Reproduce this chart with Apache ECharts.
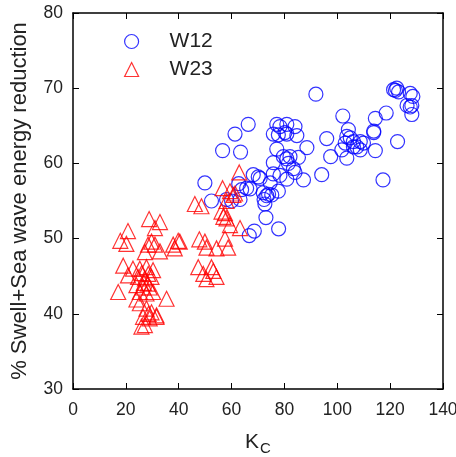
<!DOCTYPE html>
<html>
<head>
<meta charset="utf-8">
<script src="https://cdn.jsdelivr.net/npm/echarts@6/dist/echarts.min.js"></script>
<style>
  html, body { margin: 0; padding: 0; background: #fff; }
  #main { width: 456px; height: 457px; }
</style>
</head>
<body>
<div id="main"></div>
<script>
// W12 points [Kc, % reduction]
const w12 = [
  [91.9, 69.2], [122.5, 70.0], [121.3, 69.8], [123.2, 69.5], [122, 69.7],
  [127.6, 69.3], [128.6, 68.9], [126.4, 67.7], [127.6, 67.5], [128.2, 67.7], [128.2, 66.5],
  [118.5, 66.7], [102.1, 66.3], [114.4, 66.0], [113.8, 64.3], [113.8, 64.1],
  [122.8, 62.9], [117.3, 57.8], [114.4, 61.7], [96, 63.3], [97.5, 60.9], [94.1, 58.5], [88.5, 62.1],
  [104.2, 64.5], [103.6, 63.6], [104.9, 63.4], [103, 62.7], [106.1, 62.9], [108.7, 62.9],
  [109.9, 62.7], [107.4, 62.2], [108.7, 61.8], [101.7, 61.8], [103.6, 60.7], [106.1, 62.2],
  [66.3, 65.2], [61.3, 63.9], [56.6, 61.7], [63.4, 61.5], [49.9, 57.4], [52.4, 55.0],
  [77.1, 65.2], [78.3, 64.9], [80.9, 65.2], [84, 64.9], [75.8, 63.9], [77.7, 63.8],
  [80.9, 63.9], [84.7, 63.7], [80.2, 64.1], [77.1, 61.9],
  [79.6, 60.9], [80.9, 60.6], [82.1, 60.9], [85.3, 60.8], [81.5, 60], [75.8, 60.1],
  [83.4, 59.3], [84.0, 58.8], [87.2, 57.8], [80.9, 57.9], [78.3, 58.4], [75.8, 58.6],
  [68.2, 58.5], [70.1, 58.2], [70.8, 58.0], [74.6, 57.4],
  [65.7, 56.7], [67, 56.6], [63.8, 56.5], [72, 56.1], [74, 55.9], [73.3, 55.7], [75.2, 55.8], [77.7, 56.3],
  [72.3, 55.2], [72.6, 54.6], [58.1, 55.2], [60, 55.0], [63.2, 55.2],
  [73.0, 52.8], [77.8, 51.3], [66.7, 50.4], [68.6, 51.0], [62.7, 57.3]
];

// W23 points [Kc, % reduction]
const w23 = [
  [62.9, 58.8], [56.6, 56.7], [59.4, 56.3], [61.3, 56.0], [60.7, 55.8], [58.1, 55.0],
  [46.1, 54.6], [48.6, 54.3], [56.2, 53.6], [57.5, 53.4], [56.9, 52.9], [58.1, 52.7],
  [59.4, 51.8], [63.2, 51.4], [28.8, 52.6], [32.9, 52.2], [31, 51.4],
  [20.8, 51.0], [17.9, 49.7], [20.2, 49.3], [29.7, 49.6], [31, 49.2], [28.4, 49.2],
  [27.2, 48.2], [32.9, 48.3], [37.9, 49.2], [39.8, 49.7], [40.4, 49.6], [38.5, 48.7],
  [47.8, 49.9], [49.9, 49.6], [50.5, 48.8], [54.3, 48.7], [58.7, 48.8], [57.5, 50],
  [19, 46.4], [22.7, 46.0], [25.3, 46.0], [27.8, 46.2], [30.3, 45.8], [17.1, 42.9],
  [20.8, 45.1], [24.6, 44.9], [27.2, 44.7], [29.7, 44.9], [26, 45.4], [28.5, 45.3],
  [24, 43.8], [26.5, 43.5], [29, 43.5], [25.3, 42.9], [27.8, 42.7], [30.3, 42.9],
  [26.8, 44.1], [28.3, 44.0], [35.4, 42.0], [24, 41.9], [25.3, 41.4],
  [27.8, 40.7], [29.7, 40.2], [31.6, 39.8], [26.5, 39.6], [29, 39.4], [31.6, 39.6],
  [27.2, 38.5], [25.9, 38.3], [28.6, 40.0],
  [47.4, 46.2], [52.4, 46.2], [53.1, 45.7], [49.3, 45.3], [50.5, 44.6], [54.3, 44.9]
];

const xTicks = [0, 20, 40, 60, 80, 100, 120, 140];
const yTicks = [30, 40, 50, 60, 70, 80];

const font = 'Liberation Sans, Arial, sans-serif';
const tickColor = '#222';

const chart = echarts.init(document.getElementById('main'));

const baseAxis = {
  axisLine: { show: true, onZero: false, lineStyle: { color: '#000', width: 1.5 } },
  axisTick: { show: true, inside: true, length: 6, lineStyle: { color: '#000' } },
  splitLine: { show: false }
};

chart.setOption({
  animation: false,
  backgroundColor: '#fff',
  grid: { left: 73, right: 13, top: 13, bottom: 68, outerBoundsMode: 'none', containLabel: false },
  legend: {
    orient: 'vertical',
    left: 119,
    top: 26,
    itemGap: 7,
    itemWidth: 14,
    itemHeight: 14,
    textStyle: { fontFamily: font, fontSize: 21, color: '#222', padding: [0, 0, 0, 26] },
    data: [
      { name: 'W12', icon: 'circle', itemStyle: { borderWidth: 1.2 } },
      { name: 'W23', icon: 'triangle', itemStyle: { borderWidth: 1.2 } }
    ]
  },
  xAxis: [
    Object.assign({}, baseAxis, {
      type: 'value', min: 0, max: 140, interval: 20, position: 'bottom',
      name: '{k|K}{s|C}', nameLocation: 'middle', nameGap: 40,
      nameTextStyle: {
        rich: {
          k: { fontFamily: font, fontSize: 21, color: '#222' },
          s: { fontFamily: font, fontSize: 15, color: '#222', verticalAlign: 'bottom', padding: [12, 0, 0, 1] }
        }
      },
      axisLabel: { fontFamily: font, fontSize: 17.5, color: tickColor, margin: 12,
        formatter: v => xTicks.includes(v) ? String(v) : '' }
    }),
    Object.assign({}, baseAxis, {
      type: 'value', min: 0, max: 140, interval: 20, position: 'top',
      axisLabel: { show: false }
    })
  ],
  yAxis: [
    Object.assign({}, baseAxis, {
      type: 'value', min: 30, max: 80, interval: 10, position: 'left',
      name: '% Swell+Sea wave energy reduction', nameLocation: 'middle', nameGap: 42,
      nameTextStyle: { fontFamily: font, fontSize: 22, color: '#222' },
      axisLabel: { fontFamily: font, fontSize: 17.5, color: tickColor, margin: 10,
        padding: [5, 0, 0, 0],
        formatter: v => yTicks.includes(v) ? String(v) : '' }
    }),
    Object.assign({}, baseAxis, {
      type: 'value', min: 30, max: 80, interval: 10, position: 'right',
      axisLabel: { show: false }
    })
  ],
  series: [
    {
      name: 'W12', type: 'scatter', data: w12,
      symbol: 'circle', symbolSize: 14,
      itemStyle: { color: 'rgba(0,0,0,0)', borderColor: '#0000ff', borderWidth: 1.2 }
    },
    {
      name: 'W23', type: 'scatter', data: w23,
      symbol: 'triangle', symbolSize: 15,
      itemStyle: { color: 'rgba(0,0,0,0)', borderColor: '#ff0000', borderWidth: 1.2 }
    }
  ]
});
</script>
</body>
</html>
